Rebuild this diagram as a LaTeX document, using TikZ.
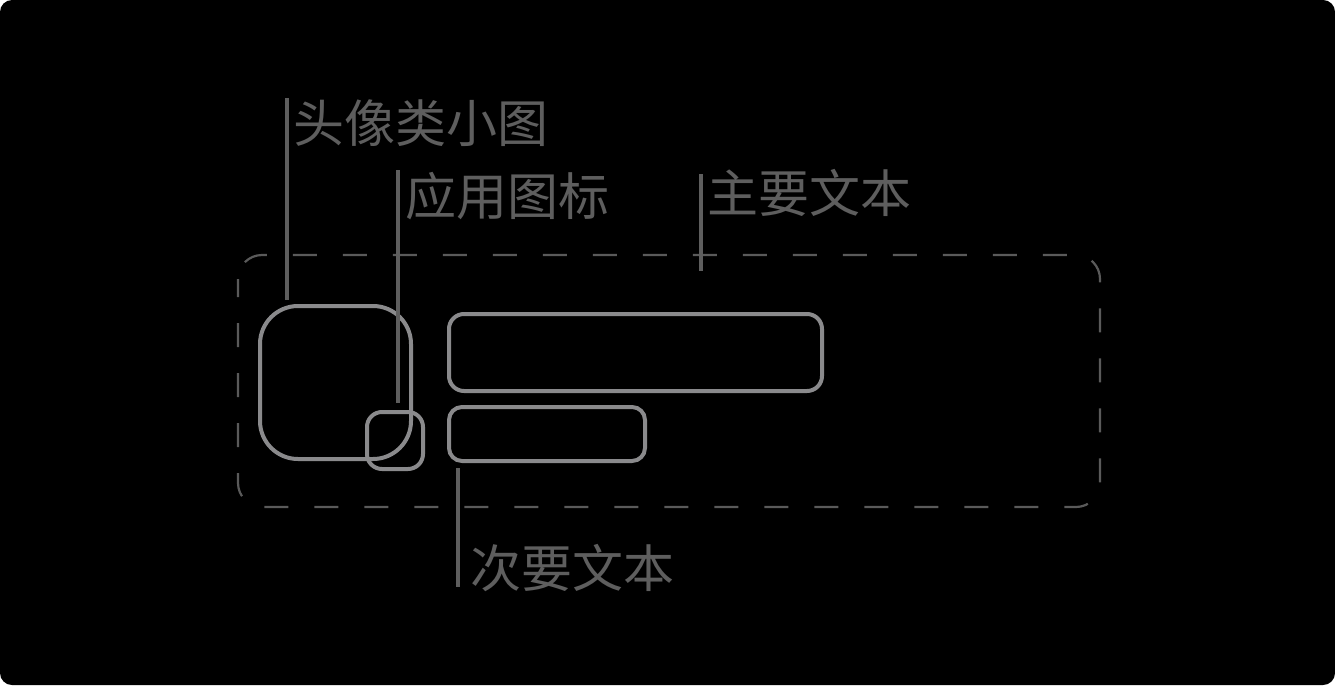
\documentclass[tikz,border=0pt]{standalone}
\usepackage{fontspec}
\newfontfamily\cjk{Noto Sans CJK SC}
\definecolor{boxgray}{HTML}{8A8A8C}
\definecolor{leadgray}{HTML}{5E5E5E}
\definecolor{dashgray}{HTML}{5A5A5A}
\begin{document}
\begin{tikzpicture}[x=1pt,y=-1pt,
  shapebox/.style={draw=boxgray,line width=4pt},
  leader/.style={draw=leadgray,line width=3.5pt},
  lbl/.style={anchor=base west,inner sep=0pt,text=leadgray,font=\cjk\fontsize{51}{51}\selectfont}]
\fill[white] (0,0) rectangle (1335,685);
\fill[black,rounded corners=12pt] (0,0) rectangle (1335,685);
\useasboundingbox (0,0) rectangle (1335,685);
% dashed container
\draw[dashgray,line width=2.2pt,rounded corners=24pt,dash pattern=on 24pt off 26pt,dash phase=6pt] (238,255) rectangle (1100,507);
% shapes
\draw[shapebox,rounded corners=38pt] (260,306) rectangle (411,459);
\draw[shapebox,rounded corners=15pt] (367,412) rectangle (423,469);
\draw[shapebox,rounded corners=15pt] (449,314) rectangle (822,391);
\draw[shapebox,rounded corners=13pt] (449,407) rectangle (645,461);
\coordinate (avatar) at (287,300);
\coordinate (appicon) at (398,403);
\coordinate (primary) at (701,271);
\coordinate (secondary) at (458,468);
% labels
\node[lbl] (lavatar) at (293,142) {头像类小图};
\node[lbl] (lapp) at (405,215) {应用图标};
\node[lbl] (lprim) at (707,212) {主要文本};
\node[lbl] (lsec) at (470,587) {次要文本};
\coordinate (tavatar) at (287,98);
\coordinate (tapp) at (398,170);
\coordinate (tprim) at (701,174);
\coordinate (tsec) at (458,587);
% leaders
\draw[leader] (tavatar) -- (avatar);
\draw[leader] (tapp) -- (appicon);
\draw[leader] (tprim) -- (primary);
\draw[leader] (secondary) -- (tsec);
\end{tikzpicture}
\end{document}
